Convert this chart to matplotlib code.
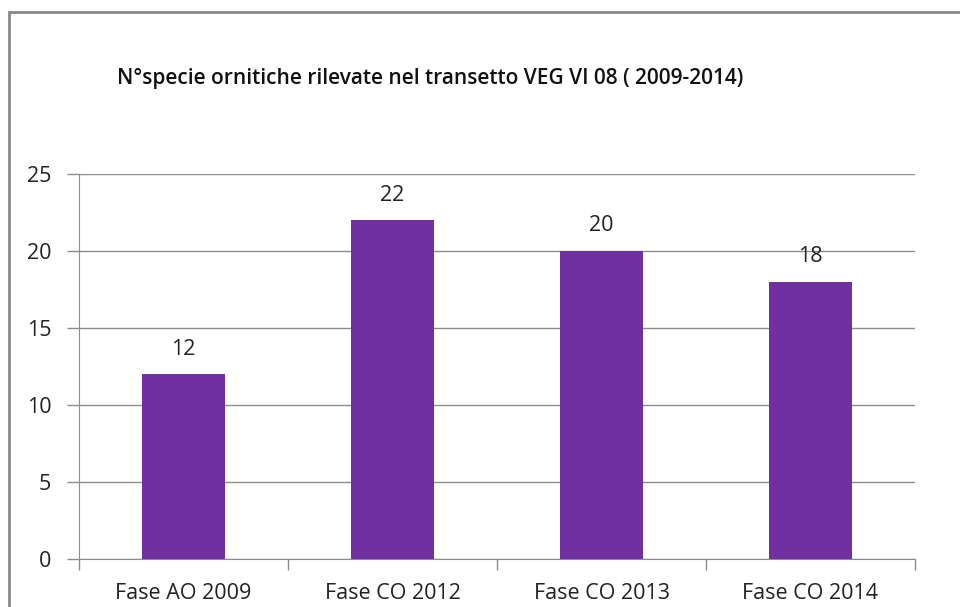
import matplotlib
matplotlib.use("Agg")
import matplotlib.pyplot as plt
from matplotlib.patches import Rectangle

categories = ["Fase AO 2009", "Fase CO 2012", "Fase CO 2013", "Fase CO 2014"]
values = [12, 22, 20, 18]
yticks = [0, 5, 10, 15, 20, 25]

plt.rcParams['font.family'] = ['Open Sans', 'DejaVu Sans']

fig = plt.figure(figsize=(9.6, 6.07), dpi=100)
W, H = 960, 607
ax = fig.add_axes([79 / W, 1 - 559 / H, (915 - 79) / W, (559 - 174) / H])

x = list(range(len(categories)))
ax.bar(x, values, width=0.4, color="#7030A0", zorder=3)
for xi, v in zip(x, values):
    ax.text(xi, v + 0.95, str(v), ha="center", va="bottom", fontsize=15.5, color="#222222")

ax.set_xlim(-0.5, len(categories) - 0.5)
ax.set_ylim(0, 25)
ax.set_yticks(yticks)
ax.set_yticklabels([str(t) for t in yticks], fontsize=15.5, color="#222222")
ax.yaxis.grid(True, color="#8c8c8c", linewidth=1, zorder=0)

ax.set_xticks(x)
ax.set_xticklabels(categories, fontsize=15.5, color="#222222")
ax.tick_params(axis="x", length=0, pad=17)
ax.set_xticks([i - 0.5 for i in range(len(categories) + 1)], minor=True)
ax.tick_params(axis="x", which="minor", length=8, color="#8c8c8c", width=1)
ax.tick_params(axis="y", length=9, color="#8c8c8c", width=1, pad=11)

for s in ["top", "right"]:
    ax.spines[s].set_visible(False)
for s in ["left", "bottom"]:
    ax.spines[s].set_color("#8c8c8c")

fig.text(117 / W, 1 - 78 / H, "N°specie ornitiche rilevate nel transetto VEG VI 08 ( 2009-2014)",
         fontsize=15, fontweight="semibold", va="center", ha="left", color="#111111")

fig.patches.append(Rectangle((9 / W, -0.1), 1.2, 1 - 12 / H + 0.1, transform=fig.transFigure,
                             fill=False, edgecolor="#888888", linewidth=2))

fig.savefig("out.png", dpi=100)
